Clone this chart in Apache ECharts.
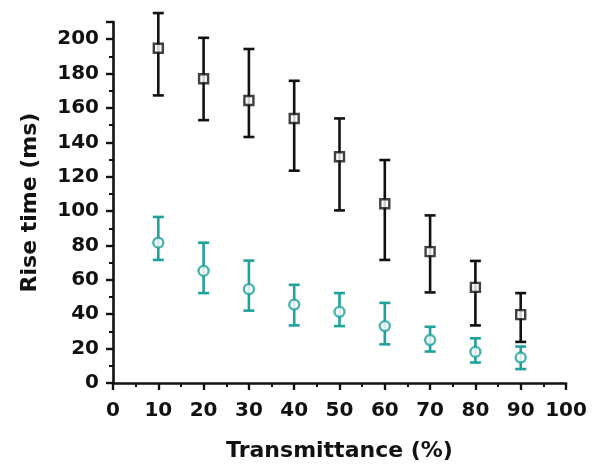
<!DOCTYPE html>
<html>
<head>
    <meta charset="utf-8">
    <title>Rise time</title>
    <script src="https://cdn.jsdelivr.net/npm/echarts@6/dist/echarts.min.js"></script>
    <style>
        html, body {margin:0;padding:0;background:#fff;}
        #chart {width:602px;height:467px;}
    </style>
</head>
<body>
<div id="chart"></div>
<script>
    // transmittance (%)
    var transmittance = [10, 20, 30, 40, 50, 60, 70, 80, 90];
    // black squares
    var blackMean = [194.7, 177, 164.3, 153.9, 131.6, 104.3, 76.4, 55.6, 39.8];
    var blackLow  = [167.3, 152.9, 143.1, 123.5, 100.4, 71.6, 52.7, 33.5, 23.9];
    var blackHigh = [215.2, 200.8, 194.3, 175.8, 153.9, 129.7, 97.5, 71, 52.3];
    // teal circles
    var tealMean = [81.6, 65.2, 54.6, 45.6, 41.4, 33.1, 25, 18.1, 14.8];
    var tealLow  = [71.6, 52.3, 42.1, 33.5, 33.1, 22.5, 18.3, 11.9, 8.1];
    var tealHigh = [96.6, 81.6, 71.2, 57.1, 52.3, 46.6, 32.7, 26, 21.2];

    var black = '#111111';
    var teal = '#1fa19c';
    var font = 'DejaVu Sans';

    function pairs(xs, ys) {
        var out = [];
        for (var i = 0; i < xs.length; i++) out.push([xs[i], ys[i]]);
        return out;
    }
    function bars(xs, lo, hi) {
        var out = [];
        for (var i = 0; i < xs.length; i++) out.push([xs[i], lo[i], hi[i]]);
        return out;
    }

    function errorBar(color) {
        return function (params, api) {
            var x = api.value(0);
            var lo = api.coord([x, api.value(1)]);
            var hi = api.coord([x, api.value(2)]);
            var w = 5.5;
            var st = {stroke: color, lineWidth: 2.6};
            return {
                type: 'group',
                children: [
                    {type: 'line', shape: {x1: lo[0], y1: lo[1], x2: hi[0], y2: hi[1]}, style: st},
                    {type: 'line', shape: {x1: lo[0] - w, y1: lo[1], x2: lo[0] + w, y2: lo[1]}, style: st},
                    {type: 'line', shape: {x1: hi[0] - w, y1: hi[1], x2: hi[0] + w, y2: hi[1]}, style: st}
                ]
            };
        };
    }

    var chart = echarts.init(document.getElementById('chart'));
    var option = {
        animation: false,
        backgroundColor: '#fff',
        grid: {left: 113, right: 36, top: 22, bottom: 81},
        xAxis: {
            type: 'value',
            min: 0, max: 100, interval: 10,
            name: 'Transmittance (%)',
            nameLocation: 'middle',
            nameGap: 57,
            nameTextStyle: {fontFamily: font, fontWeight: 'bold', fontSize: 22, color: black},
            axisLine: {onZero: false, lineStyle: {color: black, width: 2.6}},
            axisTick: {length: 7, lineStyle: {color: black, width: 2.4}},
            minorTick: {show: true, splitNumber: 2, length: 4, lineStyle: {color: black, width: 2}},
            axisLabel: {fontFamily: font, fontWeight: 'bold', fontSize: 20, color: black, margin: 18},
            splitLine: {show: false}
        },
        yAxis: {
            type: 'value',
            min: 0, max: 210, interval: 20,
            name: 'Rise time (ms)',
            nameLocation: 'middle',
            nameGap: 72,
            nameTextStyle: {fontFamily: font, fontWeight: 'bold', fontSize: 22, color: black},
            axisLine: {show: true, lineStyle: {color: black, width: 2.6}},
            axisTick: {show: true, length: 7, lineStyle: {color: black, width: 2.4}},
            minorTick: {show: true, splitNumber: 2, length: 4, lineStyle: {color: black, width: 2}},
            axisLabel: {fontFamily: font, fontWeight: 'bold', fontSize: 20, color: black, margin: 14, showMaxLabel: false},
            splitLine: {show: false}
        },
        series: [
            {
                type: 'custom',
                renderItem: errorBar(black),
                data: bars(transmittance, blackLow, blackHigh),
                encode: {x: 0, y: [1, 2]},
                z: 2
            },
            {
                type: 'custom',
                renderItem: errorBar(teal),
                data: bars(transmittance, tealLow, tealHigh),
                encode: {x: 0, y: [1, 2]},
                z: 2
            },
            {
                type: 'scatter',
                symbol: 'rect',
                symbolSize: 9,
                itemStyle: {color: '#fff', borderColor: black, borderWidth: 2.4},
                data: pairs(transmittance, blackMean),
                z: 3
            },
            {
                type: 'scatter',
                symbol: 'circle',
                symbolSize: 10,
                itemStyle: {color: '#fff', borderColor: teal, borderWidth: 2.4},
                data: pairs(transmittance, tealMean),
                z: 3
            }
        ]
    };
    chart.setOption(option);
</script>
</body>
</html>
